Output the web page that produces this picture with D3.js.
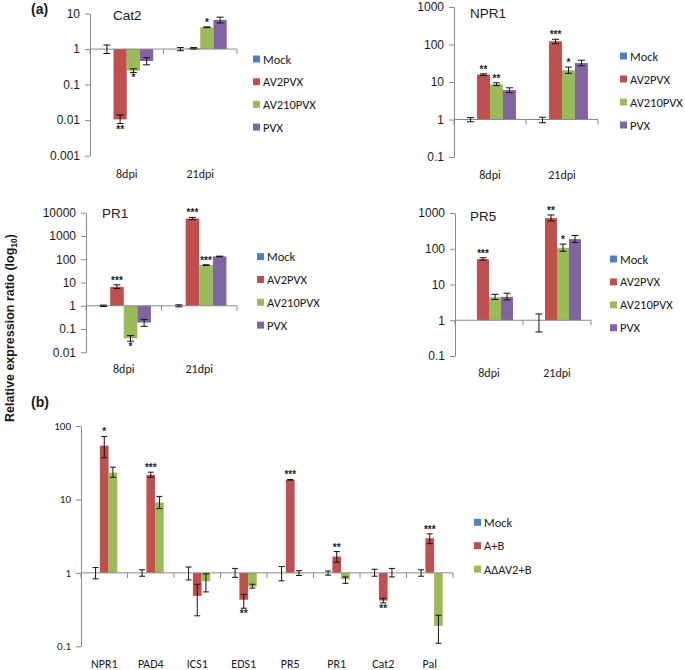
<!doctype html>
<html>
<head>
<meta charset="UTF-8">
<title>Relative expression ratio</title>
<script src="https://d3js.org/d3.v7.min.js"></script>
<style>
  body { margin: 0; background: #fff; }
  text { fill: #1a1a1a; }
</style>
</head>
<body>
<svg width="685" height="670" id="chart"></svg>
<script>
// ---- data (a) ----
var daysA = ["8dpi", "21dpi"];
var seriesA = ["Mock", "AV2PVX", "AV210PVX", "PVX"];

// values[day][series]
var cat2Val   = [[1, 0.0105, 0.245, 0.46], [1, 1.05, 4.1, 6.6]];
var cat2Lo    = [[0.75, 0.008, 0.22, 0.36], [0.9, 1.0, 4.0, 5.4]];
var cat2Hi    = [[1.3, 0.014, 0.28, 0.57], [1.1, 1.1, 4.2, 7.9]];
var cat2Stars = [["", "**", "*", ""], ["", "", "*", ""]];

var npr1Val   = [[1, 15.8, 8.7, 6.1], [1, 122, 20.6, 32]];
var npr1Lo    = [[0.87, 15, 8, 5.2], [0.82, 105, 17, 27]];
var npr1Hi    = [[1.12, 16.5, 9.5, 7], [1.15, 138, 25, 38]];
var npr1Stars = [["", "**", "**", ""], ["", "***", "*", ""]];

var pr1Val   = [[1, 6.5, 0.04, 0.19], [1, 5600, 56, 132]];
var pr1Lo    = [[0.93, 5.5, 0.03, 0.13], [0.9, 5000, 54, 128]];
var pr1Hi    = [[1.07, 8, 0.052, 0.26], [1.1, 6300, 58, 136]];
var pr1Stars = [["", "***", "*", ""], ["", "***", "***", ""]];

var pr5Val   = [[1, 51, 4.4, 4.5], [1, 720, 106, 186]];
var pr5Lo    = [[1, 48, 3.8, 3.7], [0.47, 600, 85, 150]];
var pr5Hi    = [[1, 56, 5.3, 5.7], [1.5, 880, 135, 235]];
var pr5Stars = [["", "***", "", ""], ["", "**", "*", ""]];

// ---- data (b) ----
var genesB = ["NPR1", "PAD4", "ICS1", "EDS1", "PR5", "PR1", "Cat2", "Pal"];
var seriesB = ["Mock", "A+B", "A\u0394AV2+B"];
var bVal = [[1, 54, 23.2], [1, 21.6, 9.1], [1, 0.486, 0.77], [1, 0.43, 0.65],
            [1, 18.5, 0.98], [1, 1.67, 0.82], [1, 0.42, 1], [1, 2.97, 0.19]];
var bLo  = [[0.83, 37, 20], [0.9, 20, 7.5], [0.8, 0.26, 0.55], [0.87, 0.33, 0.62],
            [0.78, 18.3, 0.92], [0.93, 1.4, 0.72], [0.9, 0.39, 0.88], [0.9, 2.5, 0.11]];
var bHi  = [[1.18, 72, 27.5], [1.1, 23.5, 11], [1.2, 0.7, 0.97], [1.15, 0.51, 0.7],
            [1.22, 18.7, 1.07], [1.06, 1.95, 0.88], [1.12, 0.45, 1.15], [1.1, 3.4, 0.265]];
var bStars = [["", "*", ""], ["", "***", ""], ["", "", ""], ["", "**", ""],
              ["", "***", ""], ["", "**", ""], ["", "**", ""], ["", "***", ""]];

var colors = ["#4F81BD", "#C0504D", "#9BBB59", "#8064A2"];

var svg = d3.select("#chart");
var tickFont = "'Liberation Sans', Arial, sans-serif";
var labFont = "Carlito, 'Noto Sans', sans-serif";

function drawPanel(p) {
  var g = svg.append("g");
  var y = d3.scaleLog().domain(p.domain).range([p.bottom, p.top]);
  var x0 = d3.scaleBand().domain(p.cats).range([p.left, p.right]);
  var bw = x0.bandwidth();
  var x1 = d3.scaleBand().domain(p.series).range([bw * p.pad, bw * (1 - p.pad)]);
  var base = y(1);
  var decades = [];
  for (var e = Math.round(Math.log10(p.domain[0])); e <= Math.round(Math.log10(p.domain[1])); e++) decades.push(Math.pow(10, e));

  var ax = g.append("g").attr("transform", "translate(" + p.left + ",0)")
    .call(d3.axisLeft(y).tickValues(decades).tickFormat(d3.format("~g")).tickSize(5).tickSizeOuter(0).tickPadding(5));
  ax.select(".domain").attr("stroke", "#8a8a8a");
  ax.selectAll(".tick line").attr("stroke", "#8a8a8a");
  ax.selectAll(".tick text").attr("font-family", p.tickFamily).attr("font-size", p.tickSize).attr("fill", "#1a1a1a");

  // bars
  p.cats.forEach(function(c, ci) {
    p.series.forEach(function(s, si) {
      var v = p.val[ci][si];
      var bx = x0(c) + x1(s);
      g.append("rect")
        .attr("x", bx).attr("width", x1.bandwidth())
        .attr("y", Math.min(y(v), base)).attr("height", Math.abs(y(v) - base))
        .attr("fill", colors[si]);
    });
  });

  // baseline axis at 1
  g.append("line").attr("x1", p.left).attr("x2", p.right).attr("y1", base).attr("y2", base)
    .attr("stroke", "#8a8a8a");
  p.cats.concat([null]).forEach(function(c) {
    var tx = c === null ? p.right : x0(c);
    g.append("line").attr("x1", tx).attr("x2", tx).attr("y1", base).attr("y2", base + 5)
      .attr("stroke", "#8a8a8a");
  });

  // error bars and stars
  p.cats.forEach(function(c, ci) {
    p.series.forEach(function(s, si) {
      var cx = x0(c) + x1(s) + x1.bandwidth() / 2;
      var lo = p.lo[ci][si], hi = p.hi[ci][si], v = p.val[ci][si];
      if (hi > lo) {
        var cap = p.cap;
        g.append("line").attr("x1", cx).attr("x2", cx).attr("y1", y(lo)).attr("y2", y(hi))
          .attr("stroke", "#111").attr("stroke-width", 1);
        [lo, hi].forEach(function(t) {
          g.append("line").attr("x1", cx - cap).attr("x2", cx + cap).attr("y1", y(t)).attr("y2", y(t))
            .attr("stroke", "#111").attr("stroke-width", 1);
        });
      }
      var st = p.stars[ci][si];
      if (st) {
        var up = v >= 1;
        g.append("text").attr("x", cx).attr("text-anchor", "middle")
          .attr("y", up ? y(hi) - 1 : y(lo) + 9)
          .attr("font-family", tickFont).attr("font-size", 10).attr("font-weight", "bold")
          .text(st);
      }
    });
  });

  // category labels
  g.selectAll(".cat").data(p.cats).enter().append("text")
    .attr("x", function(d) { return x0(d) + bw / 2; })
    .attr("y", p.catY + 4.5)
    .attr("text-anchor", "middle")
    .attr("font-family", labFont).attr("font-size", 12)
    .text(function(d) { return d; });

  if (p.title) {
    g.append("text").attr("x", p.title[0]).attr("y", p.title[1] + 5)
      .attr("font-family", tickFont).attr("font-size", 13.5).text(p.name);
  }

  // legend
  p.series.forEach(function(s, si) {
    var ly = p.legend.y0 + si * p.legend.dy;
    g.append("rect").attr("x", p.legend.x).attr("y", ly - 3.5).attr("width", 7).attr("height", 7)
      .attr("fill", colors[si]);
    g.append("text").attr("x", p.legend.x + 10).attr("y", ly + 4.5)
      .attr("font-family", labFont).attr("font-size", 12.5).text(s);
  });
}

var panels = [
  { name: "Cat2", cats: daysA, series: seriesA, val: cat2Val, lo: cat2Lo, hi: cat2Hi, stars: cat2Stars,
    domain: [0.001, 10], left: 90, right: 237, top: 13.5, bottom: 155.7, catY: 173, title: [113, 15],
    legend: { x: 253, y0: 59, dy: 22.7 }, pad: 0.14, cap: 3.5, tickFamily: tickFont, tickSize: 12 },
  { name: "NPR1", cats: daysA, series: seriesA, val: npr1Val, lo: npr1Lo, hi: npr1Hi, stars: npr1Stars,
    domain: [0.1, 1000], left: 454, right: 598, top: 7, bottom: 157, catY: 174, title: [470, 13],
    legend: { x: 620, y0: 56, dy: 23 }, pad: 0.14, cap: 3.5, tickFamily: tickFont, tickSize: 12 },
  { name: "PR1", cats: daysA, series: seriesA, val: pr1Val, lo: pr1Lo, hi: pr1Hi, stars: pr1Stars,
    domain: [0.01, 10000], left: 86, right: 237, top: 212.7, bottom: 352.3, catY: 368, title: [102, 213],
    legend: { x: 257, y0: 256.7, dy: 22.8 }, pad: 0.14, cap: 3.5, tickFamily: tickFont, tickSize: 12 },
  { name: "PR5", cats: daysA, series: seriesA, val: pr5Val, lo: pr5Lo, hi: pr5Hi, stars: pr5Stars,
    domain: [0.1, 1000], left: 455, right: 591, top: 213, bottom: 356, catY: 372.7, title: [470, 215.7],
    legend: { x: 610, y0: 259, dy: 22.9 }, pad: 0.147, cap: 3.5, tickFamily: tickFont, tickSize: 12 },
  { name: "b", cats: genesB, series: seriesB, val: bVal, lo: bLo, hi: bHi, stars: bStars,
    domain: [0.1, 100], left: 81, right: 453, top: 426, bottom: 646.3, catY: 663, title: null,
    legend: { x: 474, y0: 522.3, dy: 23.4 }, pad: 0.22, cap: 3, tickFamily: labFont, tickSize: 11 }
];
panels.forEach(drawPanel);

// panel letters and shared y title
svg.append("text").attr("x", 31).attr("y", 14).attr("font-family", tickFont)
  .attr("font-size", 14).attr("font-weight", "bold").text("(a)");
svg.append("text").attr("x", 31).attr("y", 407).attr("font-family", tickFont)
  .attr("font-size", 14).attr("font-weight", "bold").text("(b)");

var yt = svg.append("text").attr("transform", "translate(14,328) rotate(-90)")
  .attr("text-anchor", "middle").attr("font-family", tickFont)
  .attr("font-size", 12.5).attr("font-weight", "bold");
yt.append("tspan").text("Relative expression ratio (log");
yt.append("tspan").attr("font-size", 8.5).attr("dy", 3).text("10");
yt.append("tspan").attr("dy", -3).text(")");
</script>
</body>
</html>
